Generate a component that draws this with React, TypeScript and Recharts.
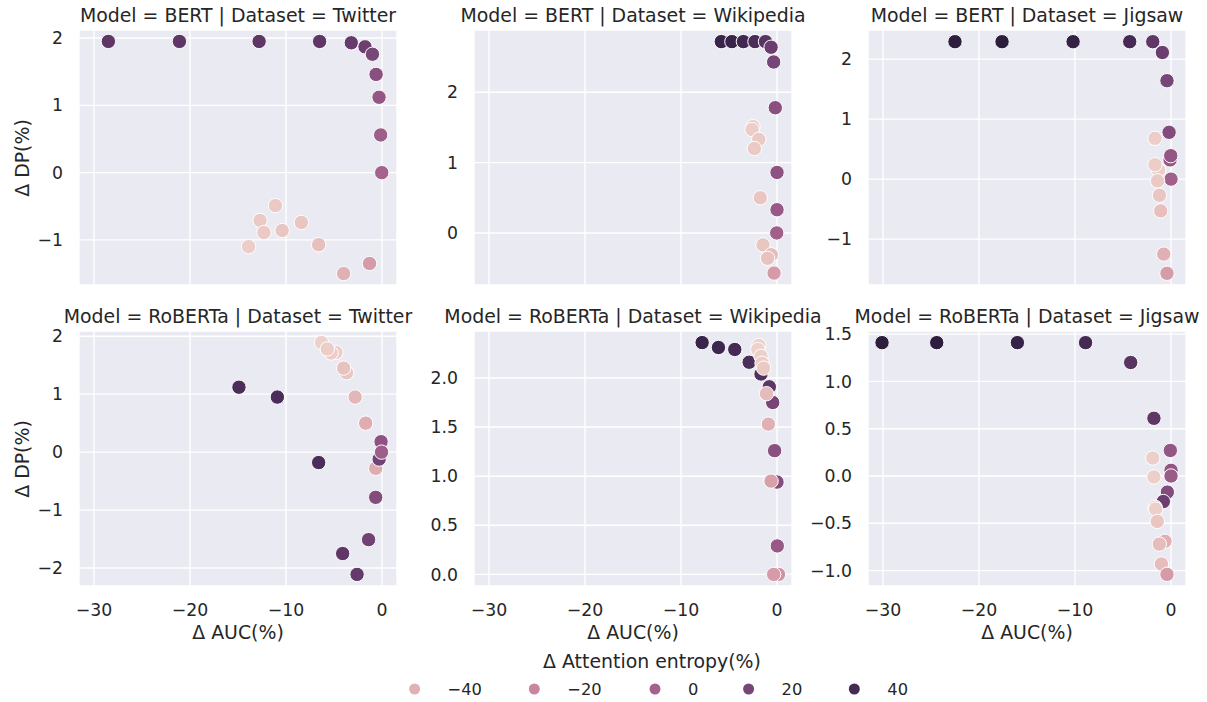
import React from 'react';
import { ScatterChart, Scatter, XAxis, YAxis, CartesianGrid } from 'recharts';

// [ΔAUC(%), ΔDP(%), ΔAttention entropy(%)]
const bertTwitter: number[][] = [
  [-28.5, 1.95, 30], [-21.1, 1.95, 30], [-12.8, 1.95, 30], [-6.5, 1.95, 30], [-3.2, 1.93, 27],
  [-1.77, 1.87, 24], [-1.0, 1.76, 19], [-0.62, 1.46, 13], [-0.31, 1.12, 8], [-0.14, 0.56, 3], [-0.03, 0.0, 0],
  [-11.1, -0.49, -52], [-12.7, -0.71, -52], [-12.3, -0.89, -52], [-10.4, -0.86, -50], [-8.4, -0.74, -50],
  [-13.9, -1.1, -53], [-6.6, -1.07, -47], [-4.0, -1.5, -40], [-1.3, -1.35, -30],
];
const bertWikipedia: number[][] = [
  [-5.8, 2.72, 45], [-4.7, 2.72, 45], [-3.5, 2.72, 42], [-2.3, 2.72, 38], [-1.2, 2.72, 33],
  [-0.62, 2.64, 25], [-0.35, 2.43, 20], [-0.18, 1.78, 12], [0.0, 0.86, 10], [0.0, 0.33, 6], [-0.03, 0.0, 2],
  [-2.5, 1.51, -53], [-2.6, 1.47, -53], [-1.9, 1.33, -52], [-2.36, 1.2, -52], [-1.74, 0.5, -50],
  [-1.46, -0.17, -50], [-0.6, -0.31, -45], [-0.98, -0.36, -48], [-0.31, -0.57, -30],
];
const bertJigsaw: number[][] = [
  [-22.5, 2.29, 50], [-17.6, 2.29, 50], [-10.2, 2.29, 47], [-4.3, 2.29, 40], [-1.9, 2.29, 30],
  [-0.9, 2.11, 25], [-0.42, 1.64, 20], [-0.2, 0.78, 15], [-0.1, 0.32, 8], [-0.03, 0.39, 8], [0.0, 0.0, 2],
  [-1.67, 0.68, -53], [-1.3, 0.15, -53], [-1.67, 0.24, -53], [-1.4, -0.03, -52], [-1.2, -0.27, -50],
  [-1.07, -0.53, -47], [-0.76, -1.25, -40], [-0.42, -1.57, -30],
];
const robertaTwitter: number[][] = [
  [-6.3, 1.89, -55], [-4.8, 1.72, -53], [-5.3, 1.71, -53], [-5.7, 1.78, -53], [-3.7, 1.37, -50],
  [-4.0, 1.45, -48], [-2.8, 0.95, -43], [-1.7, 0.5, -38], [-0.66, -0.28, -38],
  [-14.9, 1.12, 38], [-10.9, 0.95, 38], [-6.6, -0.18, 38], [-0.1, 0.18, 10], [-0.3, -0.12, 22],
  [-0.05, 0.0, 3], [-0.66, -0.78, 15], [-1.4, -1.51, 22], [-4.1, -1.75, 30], [-2.6, -2.11, 28],
];
const robertaWikipedia: number[][] = [
  [-7.8, 2.36, 45], [-6.1, 2.31, 43], [-4.4, 2.29, 40], [-2.9, 2.16, 37], [-1.67, 2.04, 35],
  [-0.8, 1.91, 30], [-0.45, 1.75, 20], [-0.25, 1.26, 12], [0.0, 0.94, 14], [0.03, 0.29, 6], [0.15, 0.0, -25],
  [-1.9, 2.33, -55], [-2.0, 2.29, -55], [-1.67, 2.22, -54], [-1.56, 2.15, -53], [-1.4, 2.1, -52],
  [-1.1, 1.84, -45], [-0.9, 1.53, -40], [-0.62, 0.95, -32], [-0.35, 0.0, -30],
];
const robertaJigsaw: number[][] = [
  [-30.1, 1.41, 50], [-24.4, 1.41, 50], [-16.0, 1.41, 46], [-8.9, 1.41, 40], [-4.2, 1.2, 32],
  [-1.78, 0.61, 30], [-0.07, 0.27, 8], [0.0, 0.06, 8], [0.0, 0.0, 5], [-0.38, -0.17, 15], [-0.8, -0.27, 25],
  [-1.9, 0.19, -54], [-1.78, -0.01, -54], [-1.67, -0.33, -54], [-1.6, -0.35, -54], [-1.43, -0.48, -50],
  [-0.63, -0.69, -40], [-1.22, -0.72, -46], [-1.0, -0.93, -46], [-0.42, -1.04, -30],
];

const xTicks = [-30, -20, -10, 0];
const legendValues = [-40, -20, 0, 20, 40];

const FONT = '"DejaVu Sans", Verdana, sans-serif';
const TEXT = '#262626';
const X_DOMAIN: [number, number] = [-31.56, 1.56];

const allH = [bertTwitter, bertWikipedia, bertJigsaw, robertaTwitter, robertaWikipedia, robertaJigsaw]
  .flat()
  .map((d) => d[2]);
const H_MIN = Math.min(...allH);
const H_MAX = Math.max(...allH);

function cubehelix(x: number): string {
  const a = (0.8 * x * (1 - x)) / 2;
  const phi = 2 * Math.PI * (0.4 * x);
  const c = Math.cos(phi);
  const s = Math.sin(phi);
  const r = x + a * (-0.14861 * c + 1.78277 * s);
  const g = x + a * (-0.29227 * c - 0.90649 * s);
  const b = x + a * (1.97294 * c);
  const to = (v: number) => Math.round(Math.max(0, Math.min(1, v)) * 255);
  return `rgb(${to(r)},${to(g)},${to(b)})`;
}
function hueColor(h: number): string {
  const t = Math.max(0, Math.min(1, (h - H_MIN) / (H_MAX - H_MIN)));
  return cubehelix(0.85 - 0.7 * t);
}

const fmtInt = (v: number) => (v < 0 ? '\u2212' : '') + String(Math.abs(v));
const fmtDec = (v: number) => (v < 0 ? '\u2212' : '') + Math.abs(v).toFixed(1);

const Dot = (props: any) => {
  if (props.cx == null || props.cy == null) return null;
  return (
    <circle cx={props.cx} cy={props.cy} r={7.2} fill={hueColor(props.payload.h)} stroke="#ffffff" strokeWidth={1} />
  );
};

const PLOT_W = 318;
const PLOT_H = 255;
const YW = 60;
const ML = 12;
const MT = 20;
const TICK_FS = 17.3;
const LABEL_FS = 18.9;

function Panel(props: {
  data: number[][];
  yDomain: [number, number];
  yTicks: number[];
  left: number;
  top: number;
  bottom: boolean;
  dec?: boolean;
}) {
  const pts = props.data.map(([x, y, h]) => ({ x, y, h }));
  const tickStyle = { fill: TEXT, fontSize: TICK_FS, fontFamily: FONT };
  return (
    <div style={{ position: 'absolute', left: props.left - YW - ML, top: props.top - MT }}>
      <ScatterChart
        width={PLOT_W + YW + ML}
        height={PLOT_H + 50 + MT}
        margin={{ top: MT, right: 0, bottom: 0, left: ML }}
      >
        <CartesianGrid fill="#EAEAF2" stroke="#ffffff" strokeWidth={1.4} />
        <XAxis
          type="number"
          dataKey="x"
          domain={X_DOMAIN}
          ticks={xTicks}
          allowDataOverflow
          interval={0}
          height={50}
          axisLine={false}
          tickLine={false}
          tickMargin={12}
          tick={tickStyle}
          tickFormatter={props.bottom ? fmtInt : () => ''}
        />
        <YAxis
          type="number"
          dataKey="y"
          domain={props.yDomain}
          ticks={props.yTicks}
          allowDataOverflow
          interval={0}
          width={YW}
          axisLine={false}
          tickLine={false}
          tickMargin={10}
          tick={tickStyle}
          tickFormatter={props.dec ? fmtDec : fmtInt}
        />
        <Scatter data={pts} isAnimationActive={false} shape={Dot} />
      </ScatterChart>
    </div>
  );
}

const Label = (p: { x: number; y: number; text: string; size: number; rotate?: boolean }) => (
  <div
    style={{
      position: 'absolute',
      left: p.x,
      top: p.y,
      transform: `translate(-50%, -50%)${p.rotate ? ' rotate(-90deg)' : ''}`,
      whiteSpace: 'nowrap',
      fontFamily: FONT,
      fontSize: p.size,
      color: TEXT,
      lineHeight: 1,
    }}
  >
    {p.text}
  </div>
);

const COLS = [79, 474, 868];
const ROWS = [30, 331];

export default function App() {
  const legendX = [414.6, 534.3, 655, 748.6, 854.3];
  return (
    <div style={{ position: 'absolute', left: 0, top: 0, width: 1207, height: 702, background: '#fff', overflow: 'hidden' }}>
      <Panel data={bertTwitter} yDomain={[-1.67, 2.12]} yTicks={[-1, 0, 1, 2]} left={COLS[0]} top={ROWS[0]} bottom={false} />
      <Panel data={bertWikipedia} yDomain={[-0.74, 2.885]} yTicks={[0, 1, 2]} left={COLS[1]} top={ROWS[0]} bottom={false} />
      <Panel data={bertJigsaw} yDomain={[-1.765, 2.485]} yTicks={[-1, 0, 1, 2]} left={COLS[2]} top={ROWS[0]} bottom={false} />
      <Panel data={robertaTwitter} yDomain={[-2.31, 2.09]} yTicks={[-2, -1, 0, 1, 2]} left={COLS[0]} top={ROWS[1]} bottom />
      <Panel data={robertaWikipedia} yDomain={[-0.118, 2.478]} yTicks={[0, 0.5, 1, 1.5, 2]} left={COLS[1]} top={ROWS[1]} bottom dec />
      <Panel data={robertaJigsaw} yDomain={[-1.163, 1.533]} yTicks={[-1, -0.5, 0, 0.5, 1, 1.5]} left={COLS[2]} top={ROWS[1]} bottom dec />

      <Label x={COLS[0] + PLOT_W / 2} y={15} text="Model = BERT | Dataset = Twitter" size={LABEL_FS} />
      <Label x={COLS[1] + PLOT_W / 2} y={15} text="Model = BERT | Dataset = Wikipedia" size={LABEL_FS} />
      <Label x={COLS[2] + PLOT_W / 2} y={15} text="Model = BERT | Dataset = Jigsaw" size={LABEL_FS} />
      <Label x={COLS[0] + PLOT_W / 2} y={316} text="Model = RoBERTa | Dataset = Twitter" size={LABEL_FS} />
      <Label x={COLS[1] + PLOT_W / 2} y={316} text="Model = RoBERTa | Dataset = Wikipedia" size={LABEL_FS} />
      <Label x={COLS[2] + PLOT_W / 2} y={316} text="Model = RoBERTa | Dataset = Jigsaw" size={LABEL_FS} />

      <Label x={22} y={ROWS[0] + PLOT_H / 2} text="Δ DP(%)" size={LABEL_FS} rotate />
      <Label x={22} y={ROWS[1] + PLOT_H / 2} text="Δ DP(%)" size={LABEL_FS} rotate />
      {COLS.map((c) => (
        <Label key={c} x={c + PLOT_W / 2} y={632} text="Δ AUC(%)" size={LABEL_FS} />
      ))}

      <Label x={652} y={661} text="Δ Attention entropy(%)" size={LABEL_FS} />
      <svg width={1207} height={40} style={{ position: 'absolute', left: 0, top: 670 }}>
        {legendValues.map((v, i) => (
          <g key={v}>
            <circle cx={legendX[i]} cy={19} r={5.5} fill={hueColor(v)} />
            <text x={legendX[i] + 33} y={19} dy="0.36em" fontFamily={FONT} fontSize={16.3} fill={TEXT}>
              {fmtInt(v)}
            </text>
          </g>
        ))}
      </svg>
    </div>
  );
}
